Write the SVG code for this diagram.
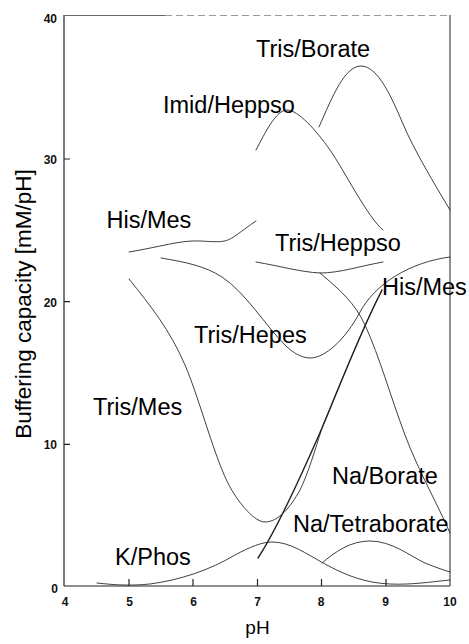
<svg xmlns="http://www.w3.org/2000/svg" width="469" height="644" viewBox="0 0 469 644">
<style>
.curve{fill:none;stroke:#2a2a2a;stroke-width:0.9;stroke-linejoin:round;stroke-linecap:round}
.thick{stroke:#222;stroke-width:1.4}
.lbl{font-family:"Liberation Sans",Arial,sans-serif;font-size:23.5px;fill:#000}
.tick{font-family:"Liberation Sans",Arial,sans-serif;font-size:12px;font-weight:bold;fill:#111}
.ax{stroke:#222;stroke-width:1.2;fill:none}
</style>
<rect width="469" height="644" fill="#fff"/>
<g id="axes">
<line class="ax" x1="64" y1="15" x2="64" y2="586"/>
<line class="ax" x1="64" y1="586" x2="450" y2="586"/>
<line x1="64" y1="15.5" x2="165" y2="15.5" stroke="#666" stroke-width="1"/>
<line x1="165" y1="15.5" x2="450" y2="15.5" stroke="#999" stroke-width="1" stroke-dasharray="7 4"/>
<line x1="450" y1="15" x2="450" y2="586" stroke="#333" stroke-width="1.1"/>
<path class="ax" d="M64,444.3H70M64,301.7H70M64,159H70M129,586V579M193,586V579M257.5,586V579M321.5,586V579M386,586V579"/>
<text class="tick" x="57" y="22.5" text-anchor="end">40</text>
<text class="tick" x="57" y="163.5" text-anchor="end">30</text>
<text class="tick" x="57" y="306.5" text-anchor="end">20</text>
<text class="tick" x="57" y="448.5" text-anchor="end">10</text>
<text class="tick" x="58" y="593" text-anchor="end">0</text>
<text class="tick" x="65" y="605.5" text-anchor="middle">4</text>
<text class="tick" x="129.5" y="605.5" text-anchor="middle">5</text>
<text class="tick" x="193.5" y="605.5" text-anchor="middle">6</text>
<text class="tick" x="257.5" y="605.5" text-anchor="middle">7</text>
<text class="tick" x="321" y="605.5" text-anchor="middle">8</text>
<text class="tick" x="385.5" y="605.5" text-anchor="middle">9</text>
<text class="tick" x="450" y="605.5" text-anchor="middle">10</text>
<text x="257.5" y="633.5" text-anchor="middle" font-family="Liberation Sans, Arial, sans-serif" font-size="19">pH</text>
<text transform="translate(31,304) rotate(-90)" text-anchor="middle" font-family="Liberation Sans, Arial, sans-serif" font-size="22.5">Buffering capacity [mM/pH]</text>
</g>
<g id="curves">
<path id="tris-borate" class="curve" d="M319,127 C333,95 345,66 361,66 C378,66 392,98 403,124 C414,150 435,185 450,210"/>
<path id="imid-heppso" class="curve" d="M256,150 C265,133 276,110 287,110 C298,110 316,130 330,150 C344,170 368,218 383,230"/>
<path id="his-mes-left" class="curve" d="M129,252 C160,247 180,240 200,241 S225,243 235,236 S250,225 256,221"/>
<path id="tris-heppso" class="curve" d="M256,262 C280,266 300,272 320,273 C340,273 360,266 383,262"/>
<path id="tris-hepes" class="curve" d="M161,258 C185,262 205,266 222,277 C245,292 265,325 285,345 C293,353 302,358 310,358 C325,358 345,340 360,312 C375,284 410,262 450,257"/>
<path id="tris-mes" class="curve" d="M129,279 C150,305 170,330 185,365 C200,400 215,460 230,487 C240,505 255,522 265,522 C278,522 290,508 300,490 C308,474 315,450 322,428 C340,385 360,333 382,290"/>
<path id="his-mes-right" class="curve thick" d="M258,558 C275,532 295,490 322,428 C340,385 360,333 382,290"/>
<path id="na-borate" class="curve" d="M320,273 C340,290 355,303 365,325 C380,358 390,395 405,435 C418,470 438,505 450,533"/>
<path id="k-phos" class="curve" d="M97,583 C115,585 130,586 150,584 C180,580 210,570 235,555 C250,547 262,542 272,542 C290,542 305,553 325,564 C345,575 365,583 390,584 C410,585 430,582 450,580"/>
<path id="na-tetraborate" class="curve" d="M322,563 C335,552 350,541 370,541 C392,541 410,556 425,563 C435,567 443,570 450,572"/>
</g>
<g id="labels">
<text class="lbl" x="256" y="57">Tris/Borate</text>
<text class="lbl" x="163" y="113">Imid/Heppso</text>
<text class="lbl" x="106.5" y="228">His/Mes</text>
<text class="lbl" x="275" y="250.5">Tris/Heppso</text>
<text class="lbl" x="194" y="342.5">Tris/Hepes</text>
<text class="lbl" x="382" y="295">His/Mes</text>
<text class="lbl" x="93" y="415">Tris/Mes</text>
<text class="lbl" x="332" y="484">Na/Borate</text>
<text class="lbl" x="293" y="531.5">Na/Tetraborate</text>
<text class="lbl" x="115" y="565">K/Phos</text>
</g>
</svg>
